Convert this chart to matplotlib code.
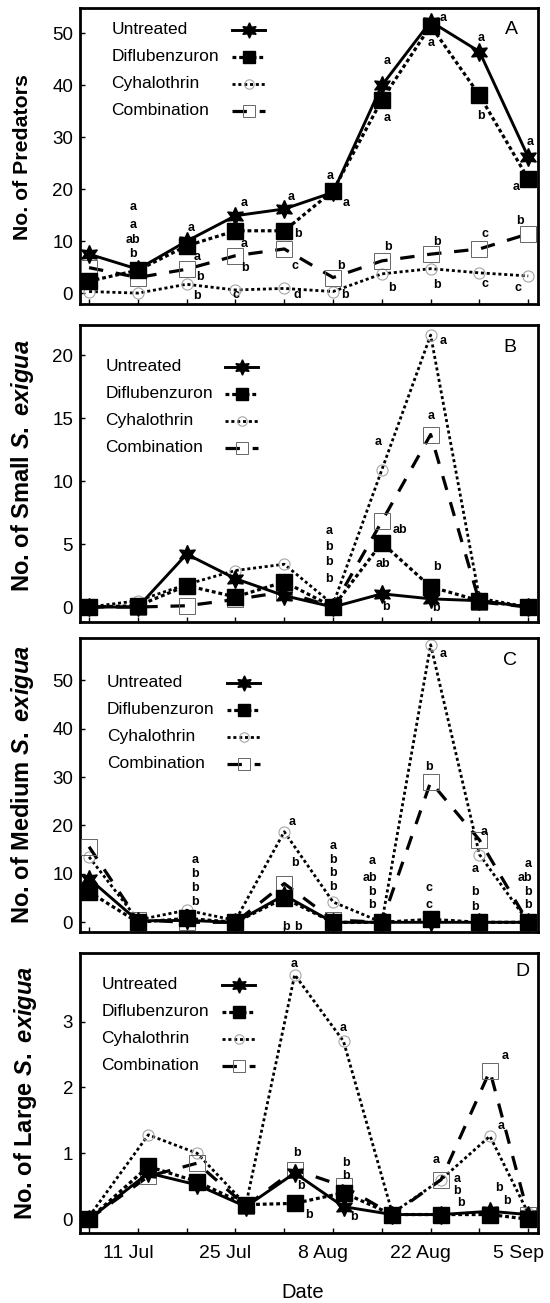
import matplotlib
matplotlib.use("Agg")
import matplotlib.pyplot as plt
import matplotlib.transforms as mtransforms

plt.rcParams['font.family'] = 'Liberation Sans'
plt.rcParams['mathtext.fontset'] = 'custom'
plt.rcParams['mathtext.it'] = 'Liberation Sans:italic:bold'
plt.rcParams['mathtext.rm'] = 'Liberation Sans:bold'

# sampling days, counted from 4 Jul
weeks = [0, 7, 14, 21, 28, 35, 42, 49, 56, 63]
large_days = [0, 8.5, 15.5, 22.5, 29.5, 36.5, 43.5, 50.5, 57.5, 63]
date_labels = ['', '11 Jul', '', '25 Jul', '', '8 Aug', '', '22 Aug', '', '5 Sep']

names = ['Untreated', 'Diflubenzuron', 'Cyhalothrin', 'Combination']

# A - predators
pred_untreated = [7.5, 4.6, 10, 14.9, 16.2, 19.4, 40, 52.3, 46.5, 26.2]
pred_diflu = [2.3, 4.4, 9.1, 12, 12, 19.7, 37.2, 51.5, 38.1, 22]
pred_cyhal = [0.3, 0, 1.7, 0.6, 0.9, 0.3, 3.7, 4.7, 3.9, 3.3]
pred_combo = [4.9, 3, 4.6, 7.2, 8.5, 3, 6.2, 7.5, 8.5, 11.4]

# B - small larvae
small_untreated = [0, 0, 4.2, 2.25, 0.9, 0, 1.05, 0.65, 0.5, 0]
small_diflu = [0, 0.1, 1.7, 0.8, 2.0, 0, 5.1, 1.6, 0.5, 0]
small_cyhal = [0, 0.5, 1.8, 2.9, 3.4, 0.2, 10.9, 21.6, 0.7, 0]
small_combo = [0, 0, 0.1, 0.6, 1.2, 0, 6.8, 13.7, 0.4, 0]

# C - medium larvae
med_untreated = [9.0, 0.3, 0.4, 0, 5.6, 0, 0, 0, 0, 0]
med_diflu = [6.3, 0, 0.8, 0, 5.0, 0, 0, 0.6, 0, 0]
med_cyhal = [13.5, 0.5, 2.5, 0.4, 18.7, 4.2, 0, 57.3, 14, 0]
med_combo = [15.6, 0.5, 0, 0, 8, 0.5, 0, 29, 17, 0]

# D - large larvae
large_untreated = [0, 0.7, 0.52, 0.19, 0.7, 0.19, 0.07, 0.07, 0.12, 0.07]
large_diflu = [0, 0.8, 0.57, 0.22, 0.24, 0.4, 0.07, 0.07, 0.07, 0]
large_cyhal = [0.04, 1.28, 1.0, 0.22, 3.71, 2.7, 0.09, 0.6, 1.26, 0.09]
large_combo = [0, 0.65, 0.85, 0.2, 0.75, 0.5, 0.07, 0.6, 2.25, 0.07]

# separation letters: (sample index, height, letter, sideways shift in px)
letters_A = [
    (1, 16.5, 'a', -5), (1, 13.2, 'a', -5), (1, 10.2, 'ab', -5), (1, 7.5, 'b', -5),
    (2, 12.6, 'a', 4), (2, 7.0, 'a', 10), (2, 3.1, 'b', 13), (2, -0.6, 'b', 10),
    (3, 17.3, 'a', 9), (3, 9.5, 'a', 9), (3, 4.9, 'b', 10), (3, -0.3, 'c', 1),
    (4, 18.5, 'a', 7), (4, 11.4, 'b', 14), (4, 5.2, 'c', 11), (4, -0.4, 'd', 13),
    (5, 22.6, 'a', -3), (5, 17.3, 'a', 13), (5, 5.2, 'b', 8), (5, -0.4, 'b', 12),
    (6, 44.6, 'a', 5), (6, 33.8, 'a', 5), (6, 8.8, 'b', 6), (6, 1.0, 'b', 10),
    (7, 53.0, 'a', 12), (7, 48.1, 'a', 0), (7, 9.9, 'b', 6), (7, 1.5, 'b', 6),
    (8, 49.1, 'a', 2), (8, 34.1, 'b', 2), (8, 11.4, 'c', 6), (8, 1.8, 'c', 6),
    (9, 29.1, 'a', 2), (9, 20.4, 'a', -12), (9, 13.8, 'b', -8), (9, 1.0, 'c', -10),
]
letters_B = [
    (5, 6.0, 'a', -4), (5, 4.8, 'b', -4), (5, 3.6, 'b', -4), (5, 2.2, 'b', -4),
    (6, 13.1, 'a', -4), (6, 6.1, 'ab', 18), (6, 3.4, 'ab', 1), (6, 0.0, 'b', 4),
    (7, 21.1, 'a', 12), (7, 15.2, 'a', 0), (7, 3.2, 'b', 6), (7, -0.1, 'b', 5),
]
letters_C = [
    (2, 12.8, 'a', 8), (2, 10.0, 'b', 8), (2, 7.0, 'b', 8), (2, 4.2, 'b', 8),
    (4, 20.8, 'a', 8), (4, 12.2, 'b', 11), (4, -0.9, 'b', 2), (4, -0.9, 'b', 14),
    (5, 15.7, 'a', 0), (5, 12.8, 'b', 0), (5, 10.1, 'b', 0), (5, 7.3, 'b', 0),
    (6, 12.7, 'a', -10), (6, 9.2, 'ab', -12), (6, 6.3, 'b', -10), (6, 3.5, 'b', -10),
    (7, 55.4, 'a', 12), (7, 32.1, 'b', -2), (7, 7.1, 'c', -2), (7, 3.5, 'c', -2),
    (8, 18.7, 'a', 5), (8, 11.1, 'a', -4), (8, 6.3, 'b', -4), (8, 3.2, 'b', -4),
    (9, 12.1, 'a', 0), (9, 9.2, 'ab', -3), (9, 6.3, 'b', 0), (9, 3.5, 'b', 0),
]
letters_D = [
    (4, 3.88, 'a', -1), (4, 1.0, 'b', 2), (4, 0.5, 'b', 6), (4, 0.07, 'b', 14),
    (5, 2.9, 'a', 0), (5, 0.85, 'b', 2), (5, 0.65, 'b', 2), (5, 0.04, 'b', 10),
    (7, 0.9, 'a', -5), (7, 0.61, 'a', 16), (7, 0.42, 'b', 16), (7, 0.24, 'b', 20),
    (8, 2.47, 'a', 15), (8, 1.41, 'a', 11), (8, 0.47, 'b', 9), (8, 0.27, 'b', 17),
]

styles = {
    'Untreated': dict(color='k', lw=2.1, ls='-', marker=(6, 1, 0), ms=13, zorder=4),
    'Diflubenzuron': dict(color='k', lw=2.3, ls=(0, (1.2, 0.9)), marker='s', ms=11,
                          mfc='k', mec='k', zorder=5),
    'Cyhalothrin': dict(color='k', lw=2.0, ls=(0, (1.1, 1.0)), marker='o', ms=8,
                        mfc='none', mec='0.65', mew=0.8, zorder=2),
    'Combination': dict(color='k', lw=2.3, ls=(0, (4.5, 4)), marker='s', ms=11,
                        mfc='none', mec='0.4', mew=0.7, zorder=3),
}
draw_order = ['Cyhalothrin', 'Combination', 'Untreated', 'Diflubenzuron']

fig = plt.figure(figsize=(5.5, 13.03), dpi=100)
H = 1303.0
W = 550.0


def add_panel(top, bottom):
    return fig.add_axes([80 / W, 1 - bottom / H, 458 / W, (bottom - top) / H])


def draw_key(ax, x0, y0):
    # legend: names on the left, line samples to the right
    anchor = mtransforms.IdentityTransform() + mtransforms.ScaledTranslation(x0, y0, ax.transAxes)
    for i, name in enumerate(names):
        dy = -27 * i
        ax.text(0, dy, name, transform=anchor, ha='left', va='center', fontsize=12.5)
        st = dict(styles[name])
        st['ms'] = st['ms'] * 0.85
        ax.plot([120, 137, 153], [dy, dy, dy], transform=anchor, markevery=[1],
                clip_on=False, **st)


def draw_panel(ax, days, series, letters, ylim, yticks, ylabel, tag, tag_off,
               key_xy, ylabel_xy, ylabel_size):
    for name in draw_order:
        ax.plot(days, series[name], clip_on=False, **styles[name])
    for i, v, s, dx in letters:
        tr = mtransforms.offset_copy(ax.transData, fig=fig, x=dx, y=0, units='dots')
        ax.text(days[i], v, s, transform=tr, ha='center', va='center',
                fontsize=9, fontweight='bold', zorder=6)
    ax.set_xlim(-1.3, 64.4)
    ax.set_ylim(*ylim)
    ax.set_yticks(yticks)
    ax.set_xticks(weeks)
    ax.set_xticklabels([])
    ax.tick_params(direction='in', length=3.5, width=1, labelsize=13.5, pad=5,
                   top=False, right=False)
    for sp in ax.spines.values():
        sp.set_linewidth(2.0)
    ax.set_ylabel(ylabel, fontsize=ylabel_size, fontweight='bold')
    ax.yaxis.label.set_va('center')
    ax.yaxis.set_label_coords(*ylabel_xy)
    tag_tr = mtransforms.offset_copy(ax.transAxes, fig=fig, x=tag_off[0], y=tag_off[1],
                                     units='dots')
    ax.text(1, 1, tag, transform=tag_tr, ha='center', va='center', fontsize=14)
    draw_key(ax, *key_xy)


axA = add_panel(8, 304)
axB = add_panel(325, 622)
axC = add_panel(638, 932)
axD = add_panel(953, 1233)

draw_panel(axA, weeks,
           {'Untreated': pred_untreated, 'Diflubenzuron': pred_diflu,
            'Cyhalothrin': pred_cyhal, 'Combination': pred_combo},
           letters_A, (-2.1, 54.9), range(0, 51, 10), 'No. of Predators', 'A',
           (-27, -22), (0.069, 0.926), (-0.1245, 0.495), 15.3)

draw_panel(axB, weeks,
           {'Untreated': small_untreated, 'Diflubenzuron': small_diflu,
            'Cyhalothrin': small_cyhal, 'Combination': small_combo},
           letters_B, (-1.19, 22.4), range(0, 21, 5),
           r'No. of Small $S.\ exigua$', 'B',
           (-28, -22), (0.055, 0.86), (-0.1245, 0.527), 17.0)

draw_panel(axC, weeks,
           {'Untreated': med_untreated, 'Diflubenzuron': med_diflu,
            'Cyhalothrin': med_cyhal, 'Combination': med_combo},
           letters_C, (-2.0, 58.7), range(0, 51, 10),
           r'No. of Medium $S.\ exigua$', 'C',
           (-28, -22), (0.059, 0.847), (-0.1245, 0.5), 17.0)

draw_panel(axD, large_days,
           {'Untreated': large_untreated, 'Diflubenzuron': large_diflu,
            'Cyhalothrin': large_cyhal, 'Combination': large_combo},
           letters_D, (-0.21, 4.04), range(0, 4),
           r'No. of Large $S.\ exigua$', 'D',
           (-16, -19), (0.047, 0.886), (-0.118, 0.5), 17.0)

# date labels sit a little left of their ticks
axD.set_xticks(weeks)
axD.set_xticklabels(date_labels)
axD.tick_params(axis='x', labelsize=14, pad=9)
shift = mtransforms.ScaledTranslation(-10 / 100, 0, fig.dpi_scale_trans)
for lbl in axD.get_xticklabels():
    lbl.set_transform(lbl.get_transform() + shift)
axD.set_xlabel('Date', fontsize=14.5)
axD.xaxis.label.set_va('center')
axD.xaxis.set_label_coords(0.487, -0.214)

fig.savefig('out.png', dpi=100)
